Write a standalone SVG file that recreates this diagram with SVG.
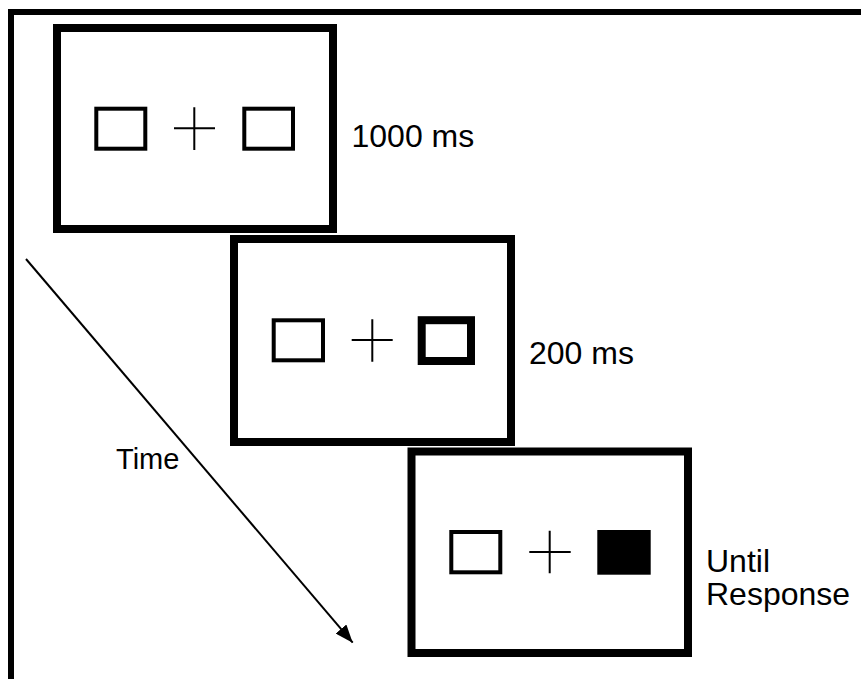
<svg xmlns="http://www.w3.org/2000/svg" width="861" height="679" viewBox="0 0 861 679">
<style>
.frame{fill:#fff;stroke:#000;stroke-width:8}
.box{fill:#fff;stroke:#000;stroke-width:4}
.cue{fill:#fff;stroke:#000;stroke-width:8}
.target{fill:#000;stroke:none}
.cross{stroke:#000;stroke-width:2;fill:none}
.lbl{font-family:"Liberation Sans",Arial,sans-serif;font-size:32px;fill:#000}
.time{font-size:29px}
</style>
<defs>
<marker id="ah" markerWidth="18" markerHeight="14" refX="18" refY="7" orient="auto" markerUnits="userSpaceOnUse" viewBox="0 0 18 14">
<path d="M0,0 L18,7 L0,14 Z" fill="#000"/>
</marker>
</defs>
<rect width="861" height="679" fill="#fff"/>
<g id="border">
<path d="M11,679 L11,12 L861,12" fill="none" stroke="#000" stroke-width="6"/>
</g>
<g id="frame1">
<rect class="frame" x="57" y="28" width="276" height="201"/>
<rect class="box" x="96.3" y="108.7" width="49" height="40"/>
<path class="cross" d="M174,128.3 H215 M194.3,107.3 V150"/>
<rect class="box" x="244.3" y="108.7" width="48.7" height="40"/>
</g>
<g id="frame2">
<rect class="frame" x="234" y="239" width="277" height="203"/>
<rect class="box" x="273.7" y="320.3" width="49.3" height="40"/>
<path class="cross" d="M351.7,340 H392.7 M372.3,319.3 V361.7"/>
<rect class="cue" x="421.7" y="320.2" width="49.3" height="40.8"/>
</g>
<g id="frame3">
<rect class="frame" x="411.5" y="451.5" width="276.5" height="201.5"/>
<rect class="box" x="451.3" y="532" width="49" height="40.3"/>
<path class="cross" d="M529.3,552 H570.7 M549.7,530.7 V573.3"/>
<rect class="target" x="597.3" y="530" width="53.4" height="44.7"/>
</g>
<g id="connectors">
<line x1="26" y1="259" x2="352.7" y2="642.7" stroke="#000" stroke-width="2" marker-end="url(#ah)"/>
</g>
<g id="labels">
<text class="lbl" x="351.5" y="147.3">1000 ms</text>
<text class="lbl" x="529" y="364">200 ms</text>
<text class="lbl" x="706" y="572.3">Until</text>
<text class="lbl" x="706" y="605">Response</text>
<text class="lbl time" x="116" y="469.3">Time</text>
</g>
</svg>
